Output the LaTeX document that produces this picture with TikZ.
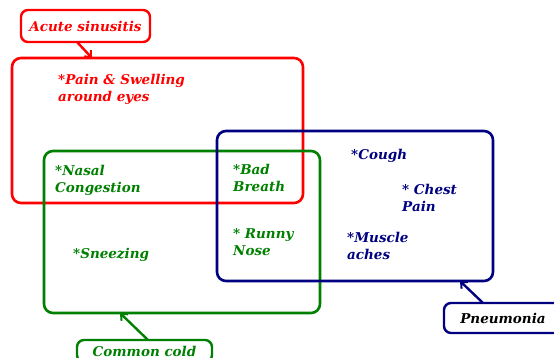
\documentclass[tikz,border=0pt]{standalone}
\usepackage{fontspec}
\setmainfont{DejaVu Serif}
\usetikzlibrary{arrows.meta}
\definecolor{cred}{RGB}{255,0,0}
\definecolor{cgreen}{RGB}{0,128,0}
\definecolor{cblue}{RGB}{0,0,128}
\tikzset{
  bigbox/.style={draw, line width=2.6pt, rounded corners=9pt},
  tag/.style={draw, line width=2.4pt, rounded corners=7pt, inner sep=0pt, font=\fontsize{13.5}{15}\selectfont\bfseries\itshape},
  lbl/.style={anchor=west, inner sep=0pt, align=left, font=\fontsize{13.5}{17}\selectfont\bfseries\itshape},
  conn/.style={line width=2.4pt, -{Straight Barb[length=5pt,width=9pt,line width=2pt]}}
}
\begin{document}
\begin{tikzpicture}[x=1pt,y=-1pt]
\useasboundingbox (0,0) rectangle (554,358);
% big boxes
\node[bigbox, cred, minimum width=291pt, minimum height=145pt] (red) at (157.5,130.5) {};
\node[bigbox, cgreen, minimum width=276pt, minimum height=162pt] (green) at (182,232) {};
\node[bigbox, cblue, minimum width=276pt, minimum height=150pt] (blue) at (355,206) {};
% tags
\node[tag, cred, minimum width=129pt, minimum height=32pt] (acute) at (85.5,26) {Acute sinusitis};
\node[tag, cgreen, minimum width=135pt, minimum height=22pt] (cold) at (144.5,351) {Common cold};
\node[tag, cblue, minimum width=118pt, minimum height=30pt, text=black] (pneu) at (503,318) {Pneumonia};
\coordinate (redin) at (92,58);
\coordinate (greenin) at (120,313);
\coordinate (bluein) at (460,281);
\coordinate (acuteout) at (77,42);
\coordinate (coldout) at (148,340);
\coordinate (pneuout) at (483,303);
\draw[conn, cred] (acuteout) -- (redin);
\draw[conn, cgreen] (coldout) -- (greenin);
\draw[conn, cblue] (pneuout) -- (bluein);
% labels
\node[lbl, cred] (pain) at (58,89) {*Pain \& Swelling\\around eyes};
\node[lbl, cgreen] (nasal) at (55,180.5) {*Nasal\\Congestion};
\node[lbl, cgreen] (bad) at (233,177.5) {*Bad\\Breath};
\node[lbl, cgreen] (runny) at (233,242.5) {* Runny\\Nose};
\node[lbl, cgreen] (sneeze) at (73,255) {*Sneezing};
\node[lbl, cblue] (cough) at (351,156) {*Cough};
\node[lbl, cblue] (chest) at (402,197.5) {* Chest\\Pain};
\node[lbl, cblue] (muscle) at (347,246) {*Muscle\\aches};
\end{tikzpicture}
\end{document}
